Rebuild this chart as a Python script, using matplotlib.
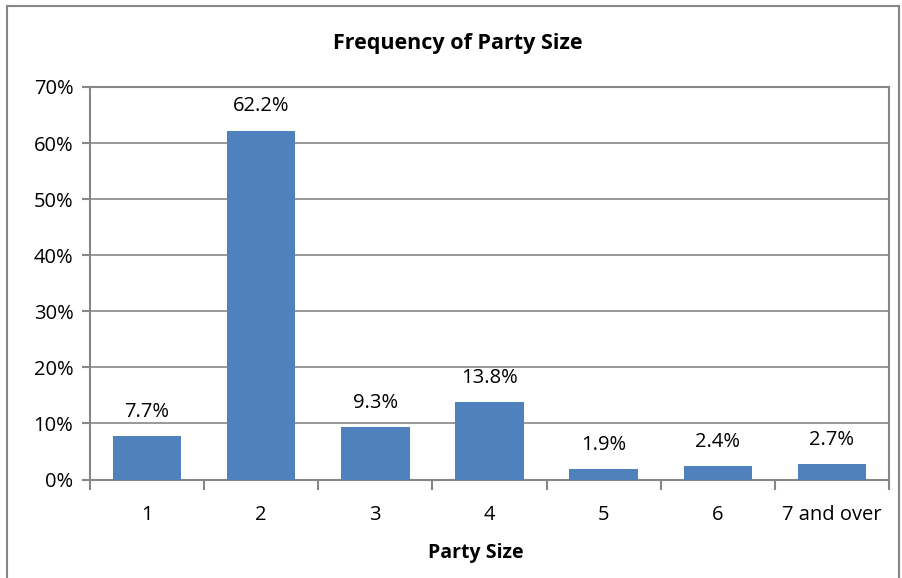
import matplotlib
matplotlib.use('Agg')
import matplotlib.pyplot as plt
from matplotlib.patches import Rectangle

categories = ['1', '2', '3', '4', '5', '6', '7 and over']
shares = [7.7, 62.2, 9.3, 13.8, 1.9, 2.4, 2.7]
y_ticks = [0, 10, 20, 30, 40, 50, 60, 70]

plt.rcParams['font.family'] = ['Open Sans', 'DejaVu Sans']

fig = plt.figure(figsize=(9.02, 5.78), dpi=100)
ax = fig.add_axes([90 / 902, 1 - 479.5 / 578, (889 - 90) / 902, (479.5 - 87) / 578])

grey = '#868686'
x = list(range(len(categories)))
bars = ax.bar(x, shares, width=0.6, color='#4F81BD', zorder=3)

for xi, v in zip(x, shares):
    ax.annotate(f'{v:.1f}%', (xi, v), xytext=(0, 17.5), textcoords='offset points',
                ha='center', va='center', fontsize=14.5)

ax.set_xlim(-0.5, len(categories) - 0.5)
ax.set_ylim(0, 70)
ax.set_yticks(y_ticks)
ax.set_yticklabels([f'{t}%' for t in y_ticks], fontsize=14.5)
ax.set_xticks(x)
ax.set_xticklabels(categories, fontsize=14.5)
ax.set_xticks([i + 0.5 for i in range(-1, len(categories))], minor=True)
ax.tick_params(axis='x', which='major', length=0, pad=18)
ax.tick_params(axis='x', which='minor', length=7, color=grey, width=1.5)
ax.tick_params(axis='y', length=6, color=grey, width=1.5, pad=6)
ax.grid(axis='y', color=grey, linewidth=1.2, zorder=0)
for s in ax.spines.values():
    s.set_color(grey)
    s.set_linewidth(1.5)

fig.text(458 / 902, 1 - 43 / 578, 'Frequency of Party Size', fontsize=15.5,
         fontweight='bold', ha='center', va='center')
fig.text(476 / 902, 1 - 553 / 578, 'Party Size', fontsize=14,
         fontweight='bold', ha='center', va='center')

# outer chart border
fig.patches.append(Rectangle((7 / 902, -0.05), (899 - 7) / 902, 1.05 - 6 / 578,
                             transform=fig.transFigure, fill=False,
                             edgecolor=grey, linewidth=1.5))

fig.savefig('out.png', dpi=100)
